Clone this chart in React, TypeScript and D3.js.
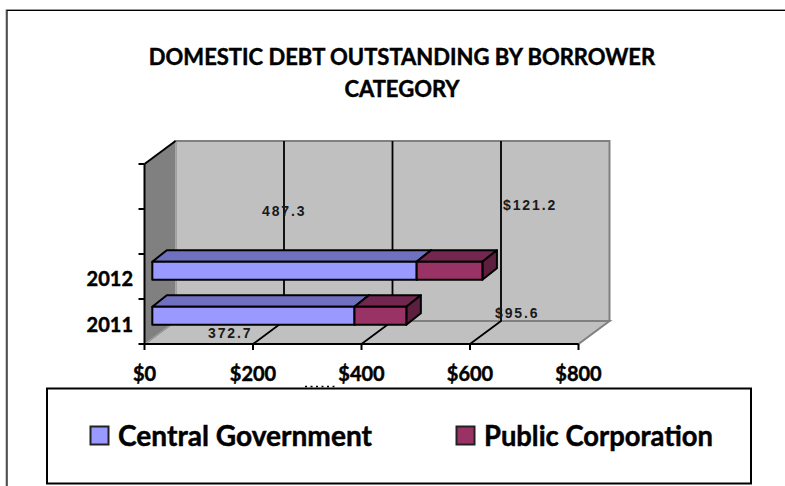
import React from "react";
import * as d3 from "d3";

const WIDTH = 785;
const HEIGHT = 486;

const titleLines = ["DOMESTIC DEBT OUTSTANDING BY BORROWER", "CATEGORY"];
const categories = ["2011", "2012", "", ""];
const centralGovernment = [372.7, 487.3];
const publicCorporation = [95.6, 121.2];
const axisTicks = [0, 200, 400, 600, 800];
const seriesNames = ["Central Government", "Public Corporation"];
const seriesColors = ["#9999ff", "#993366"];
const seriesTopColors = ["#7070c0", "#722650"];
const seriesSideColors = ["#5c5c99", "#5c1f3d"];
const centralLabels = ["372.7", "487.3"];
const publicLabels = ["$95.6", "$121.2"];

// Front plane of the 3D plot box, and the offset to its back plane.
const x = d3.scaleLinear().domain([0, 800]).range([144.5, 578.5]);
const band = d3.scaleBand<number>().domain([0, 1, 2, 3]).range([344, 164]);
const DEPTH_X = 31;
const DEPTH_Y = -23;

// Bars sit a quarter of the way into the box depth.
const BAR_X = 7.8;
const BAR_Y = -7;
const BAR_DX = 14.5;
const BAR_DY = -11.5;
const BAR_H = 18;

const pts = (p: [number, number][]) => p.map((q) => q.join(",")).join(" ");
const lato = "Lato, 'Open Sans', sans-serif";
const arial = "'Liberation Sans', Arial, sans-serif";
const heavy = { stroke: "#000", strokeWidth: 0.45 };

function Bar3D({ from, to, y, i }: { from: number; to: number; y: number; i: number }) {
  const x0 = x(from) + BAR_X;
  const x1 = x(from + to) + BAR_X;
  const common = { stroke: "#000", strokeWidth: 2, strokeLinejoin: "round" as const };
  return (
    <g>
      <polygon
        {...common}
        fill={seriesTopColors[i]}
        points={pts([[x0, y], [x0 + BAR_DX, y + BAR_DY], [x1 + BAR_DX, y + BAR_DY], [x1, y]])}
      />
      <polygon
        {...common}
        fill={seriesSideColors[i]}
        points={pts([[x1, y], [x1 + BAR_DX, y + BAR_DY], [x1 + BAR_DX, y + BAR_H + BAR_DY], [x1, y + BAR_H]])}
      />
      <rect {...common} fill={seriesColors[i]} x={x0} y={y} width={x1 - x0} height={BAR_H} />
    </g>
  );
}

export default function App() {
  const left = x.range()[0];
  const floorY = band.range()[0];
  const topY = band.range()[1];
  const right = x.range()[1];
  const yTicks = [0, 1, 2, 3, 4].map((k) => floorY + (k * (topY - floorY)) / 4);

  return (
    <svg
      width={WIDTH}
      height={HEIGHT}
      viewBox={`0 0 ${WIDTH} ${HEIGHT}`}
      style={{ position: "absolute", left: 0, top: 0, background: "#fff" }}
    >
      {/* chart area frame, running off the right and bottom edges */}
      <path d={`M6 ${HEIGHT} V9.5 H${WIDTH}`} fill="none" stroke="#999" strokeWidth={1} />
      <path d={`M7 ${HEIGHT} V10.5 H${WIDTH}`} fill="none" stroke="#000" strokeWidth={1.2} />

      {titleLines.map((t, i) => (
        <text
          key={t}
          x={402}
          y={65 + i * 32}
          textAnchor="middle"
          fontFamily={lato}
          fontWeight={700}
          fontSize={22}
          fill="#000"
          {...heavy}
        >
          {t}
        </text>
      ))}

      {/* back wall */}
      <rect
        x={left + DEPTH_X}
        y={topY + DEPTH_Y}
        width={right - left}
        height={floorY - topY}
        fill="#c0c0c0"
        stroke="#808080"
        strokeWidth={2}
      />
      {/* floor */}
      <polygon
        fill="#c0c0c0"
        stroke="#808080"
        strokeWidth={2}
        points={pts([
          [left, floorY],
          [left + DEPTH_X, floorY + DEPTH_Y],
          [right + DEPTH_X, floorY + DEPTH_Y],
          [right, floorY],
        ])}
      />
      {/* side wall */}
      <polygon
        fill="#808080"
        stroke="#a8a8a8"
        strokeWidth={1}
        points={pts([
          [left, floorY],
          [left + DEPTH_X, floorY + DEPTH_Y],
          [left + DEPTH_X, topY + DEPTH_Y],
          [left, topY],
        ])}
      />

      {/* gridlines along the floor and up the back wall */}
      {axisTicks.slice(1, -1).map((t) => (
        <path
          key={t}
          d={`M${x(t)} ${floorY} L${x(t) + DEPTH_X} ${floorY + DEPTH_Y} V${topY + DEPTH_Y}`}
          fill="none"
          stroke="#000"
          strokeWidth={1.8}
        />
      ))}

      {/* bars, back row first */}
      {[1, 0].map((c) => {
        const y = band(c)! + band.bandwidth() / 2 + BAR_Y - BAR_H / 2 + 1.2;
        return (
          <g key={c}>
            <Bar3D from={0} to={centralGovernment[c]} y={y} i={0} />
            <Bar3D from={centralGovernment[c]} to={publicCorporation[c]} y={y} i={1} />
          </g>
        );
      })}

      {/* value axis */}
      <path d={`M${left} ${topY} V${floorY} H${right}`} fill="none" stroke="#000" strokeWidth={2} />
      <path
        d={`M${left} ${topY} L${left + DEPTH_X} ${topY + DEPTH_Y}`}
        stroke="#000"
        strokeWidth={2}
      />
      {axisTicks.map((t) => (
        <g key={t}>
          <line x1={x(t)} x2={x(t)} y1={floorY} y2={floorY + 6} stroke="#000" strokeWidth={2} />
          <text
            x={x(t)}
            y={381}
            textAnchor="middle"
            fontFamily={lato}
            fontWeight={700}
            fontSize={20}
            fill="#000"
            {...heavy}
          >
            ${t}
          </text>
        </g>
      ))}

      {/* category axis */}
      {yTicks.map((y) => (
        <line key={y} x1={left - 6} x2={left} y1={y} y2={y} stroke="#000" strokeWidth={2} />
      ))}
      {categories.map((c, i) =>
        c ? (
          <text
            key={c}
            x={133}
            y={band(i)! + band.bandwidth() / 2 + (i === 0 ? 10.5 : 9)}
            textAnchor="end"
            fontFamily={lato}
            fontWeight={700}
            fontSize={20}
            fill="#000"
            {...heavy}
          >
            {c}
          </text>
        ) : null
      )}

      {/* data labels, placed where the source chart left them */}
      {[
        { t: centralLabels[1], x: 262, y: 216 },
        { t: publicLabels[1], x: 503, y: 210 },
        { t: centralLabels[0], x: 208, y: 338 },
        { t: publicLabels[0], x: 495, y: 318 },
      ].map((d) => (
        <text
          key={d.t}
          x={d.x}
          y={d.y}
          fontFamily={arial}
          fontWeight={700}
          fontSize={14}
          letterSpacing={1.9}
          fill="#1a1a1a"
        >
          {d.t}
        </text>
      ))}

      {/* axis title, all but hidden by the legend box */}
      <line x1={305} x2={337} y1={386.5} y2={386.5} stroke="#000" strokeWidth={1.6} strokeDasharray="2 3.5" />

      {/* legend */}
      <rect x={47} y={388.5} width={704} height={95} fill="#fff" stroke="#000" strokeWidth={2} />
      {seriesNames.map((name, i) => {
        const sx = [90.5, 456.5][i];
        return (
          <g key={name}>
            <rect x={sx} y={426.5} width={18} height={18} fill={seriesColors[i]} stroke="#222" strokeWidth={2} />
            <text
              x={sx + 27.5}
              y={446}
              fontFamily={lato}
              fontWeight={700}
              fontSize={28}
              fill="#000"
              textLength={[254, 229][i]}
              lengthAdjust="spacingAndGlyphs"
              {...heavy}
            >
              {name}
            </text>
          </g>
        );
      })}
    </svg>
  );
}
